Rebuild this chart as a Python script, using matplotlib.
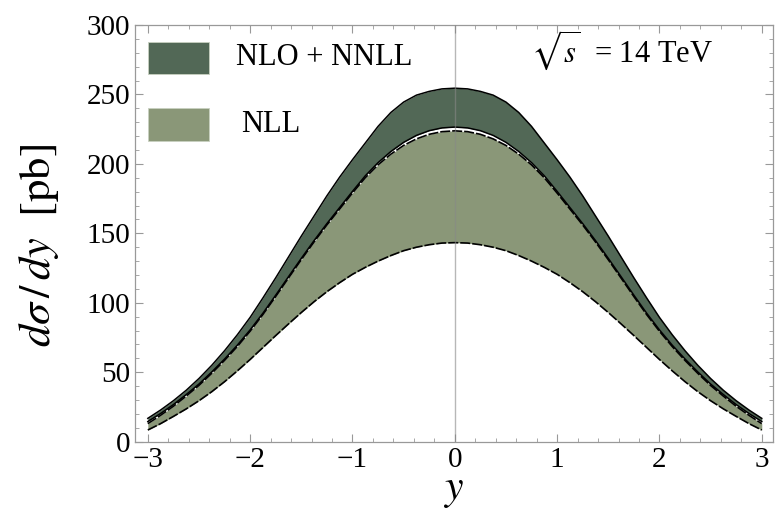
import matplotlib
matplotlib.use("Agg")
import matplotlib.pyplot as plt
from matplotlib.patches import Rectangle
from matplotlib.ticker import MultipleLocator

# rapidity grid and cross-section bands (pb)
rapidity = [-3.0, -2.875, -2.75, -2.625, -2.5, -2.375, -2.25, -2.125, -2.0, -1.875, -1.75,
            -1.625, -1.5, -1.375, -1.25, -1.125, -1.0, -0.875, -0.75, -0.625, -0.5, -0.375,
            -0.25, -0.125, 0.0, 0.125, 0.25, 0.375, 0.5, 0.625, 0.75, 0.875, 1.0, 1.125,
            1.25, 1.375, 1.5, 1.625, 1.75, 1.875, 2.0, 2.125, 2.25, 2.375, 2.5, 2.625, 2.75,
            2.875, 3.0]

nnll_hi = [16.8, 22.8, 29.5, 37.0, 45.5, 55.0, 65.5, 77.0, 89.5, 103.5, 118.0, 133.0, 148.0,
           162.5, 177.0, 190.5, 203.0, 215.0, 227.0, 237.0, 244.5, 249.5, 252.2, 254.0,
           254.5,
           254.0, 252.2, 249.5, 244.5, 237.0, 227.0, 215.0, 203.0, 190.5, 177.0, 162.5,
           148.0, 133.0, 118.0, 103.5, 89.5, 77.0, 65.5, 55.0, 45.5, 37.0, 29.5, 22.8, 16.8]

nnll_lo = [14.5, 20.3, 26.7, 33.9, 41.5, 50.2, 59.5, 69.5, 80.5, 92.5, 105.5, 118.8, 132.0,
           144.8, 157.0, 168.6, 180.2, 191.4, 200.9, 208.9, 215.5, 220.5, 223.9, 225.9,
           226.5,
           225.9, 223.9, 220.5, 215.5, 208.9, 200.9, 191.4, 180.2, 168.6, 157.0, 144.8,
           132.0, 118.8, 105.5, 92.5, 80.5, 69.5, 59.5, 50.2, 41.5, 33.9, 26.7, 20.3, 14.5]

nll_hi = [13.0, 19.0, 25.5, 32.8, 40.5, 49.2, 58.5, 68.5, 79.5, 91.5, 104.5, 117.8, 131.0,
          143.8, 156.0, 167.5, 179.0, 190.0, 199.3, 207.0, 213.3, 218.0, 221.3, 223.2,
          223.8,
          223.2, 221.3, 218.0, 213.3, 207.0, 199.3, 190.0, 179.0, 167.5, 156.0, 143.8,
          131.0, 117.8, 104.5, 91.5, 79.5, 68.5, 58.5, 49.2, 40.5, 32.8, 25.5, 19.0, 13.0]

nll_lo = [8.4, 13.0, 18.2, 23.6, 29.5, 36.0, 43.2, 51.0, 59.2, 67.8, 76.4, 84.8, 93.0,
          100.8, 108.0, 114.5, 120.5, 125.5, 130.0, 134.0, 137.5, 140.0, 141.8, 143.0,
          143.3,
          143.0, 141.8, 140.0, 137.5, 134.0, 130.0, 125.5, 120.5, 114.5, 108.0, 100.8,
          93.0, 84.8, 76.4, 67.8, 59.2, 51.0, 43.2, 36.0, 29.5, 23.6, 18.2, 13.0, 8.4]

labels = ["NLO + NNLL", "NLL"]
colors = ["#526856", "#8a9778"]
energy_label = r"$\sqrt{s}$  = 14 TeV"

plt.rcParams["mathtext.fontset"] = "stix"
plt.rcParams["font.family"] = ["Liberation Serif", "DejaVu Serif"]

fig = plt.figure(figsize=(7.78, 5.13), dpi=100)
ax = fig.add_axes([0.1729, 0.139, 0.8207, 0.8123])

# NLL band
ax.fill_between(rapidity, nll_lo, nll_hi, color=colors[1], lw=0, zorder=2)
ax.plot(rapidity, nll_hi, color="black", lw=1.2, ls=(0, (6, 1.2)), zorder=4)
ax.plot(rapidity, nll_lo, color="black", lw=1.2, ls=(0, (6, 1.2)), zorder=4)

# NLO + NNLL band
ax.fill_between(rapidity, nnll_lo, nnll_hi, color=colors[0], lw=0, zorder=3)
ax.plot(rapidity, nnll_hi, color="black", lw=1.1, zorder=4)
ax.plot(rapidity, nnll_lo, color="black", lw=1.1, zorder=4)

ax.axvline(0, color="#888888", lw=1.0, alpha=0.6, zorder=5)

ax.set_xlim(-3.13, 3.11)
ax.set_ylim(0, 300)
ax.xaxis.set_major_locator(MultipleLocator(1))
ax.xaxis.set_minor_locator(MultipleLocator(0.2))
ax.yaxis.set_major_locator(MultipleLocator(50))
ax.yaxis.set_minor_locator(MultipleLocator(10))
ax.tick_params(which="both", direction="in", top=True, right=True, color="#999999",
               labelsize=21, labelcolor="black")
ax.tick_params(which="major", length=6, width=0.8)
ax.tick_params(which="minor", length=3, width=0.6)
ax.tick_params(axis="y", pad=3)
ax.tick_params(axis="x", pad=4)
for s in ax.spines.values():
    s.set_color("#999999")
    s.set_linewidth(0.9)

ax.set_xlabel(r"$y$", fontsize=30, labelpad=-1)
ax.set_ylabel(r"$d\sigma\,/\,dy\ \ [\mathrm{pb}]$", fontsize=32)
ax.yaxis.set_label_coords(-0.115, 0.47)

# legend swatches
swatch_y = [0.8817, 0.7216]
text_x = [0.1585, 0.1663]
for i in range(2):
    ax.add_patch(Rectangle((0.0207, swatch_y[i]), 0.096, 0.0785, transform=ax.transAxes,
                           facecolor=colors[i], edgecolor="#c8d0c0", lw=0.6, zorder=6))
    ax.text(text_x[i], swatch_y[i] + 0.0392, labels[i], transform=ax.transAxes,
            fontsize=22, va="center", ha="left", zorder=6)

ax.text(0.906, 0.94, energy_label, transform=ax.transAxes, fontsize=22,
        ha="right", va="center", zorder=6)

fig.savefig("out.png", dpi=100)
